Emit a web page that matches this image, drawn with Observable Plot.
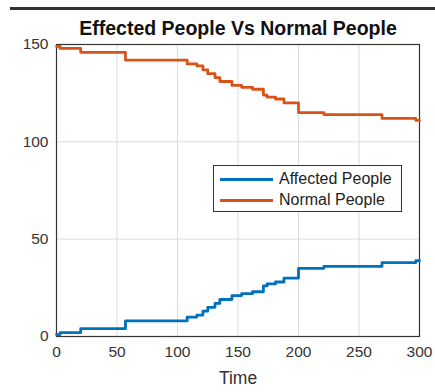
<!DOCTYPE html>
<html>
<head>
<meta charset="utf-8">
<script src="https://cdn.jsdelivr.net/npm/d3@7"></script>
<script src="https://cdn.jsdelivr.net/npm/@observablehq/plot@0.6"></script>
<style>
  html, body { margin: 0; padding: 0; background: #fff; }
  #wrap { position: relative; width: 435px; height: 392px; font-family: "Liberation Sans", Arial, sans-serif; }
  #topbar { position: absolute; left: 10px; top: 7px; width: 425px; height: 2.5px; background: #333; }
  #legend { position: absolute; left: 213px; top: 165px; width: 189px; height: 47px; background: #fff; border: 1px solid #333; box-sizing: border-box; }
  .item { position: absolute; left: 6px; height: 20px; display: flex; align-items: center; font-size: 16px; color: #222; }
  .sw { width: 53px; height: 3px; margin-right: 6px; }
</style>
</head>
<body>
<div id="wrap"><div id="chart"></div><div id="topbar"></div><div id="legend"></div></div>
<script>
const title = "Effected People Vs Normal People";
const xLabel = "Time";
const seriesNames = ["Affected People", "Normal People"];
const seriesColors = ["#0072BD", "#D95319"];
const xTicks = [0, 50, 100, 150, 200, 250, 300];
const yTicks = [0, 50, 100, 150];
const stepTimes = [0, 3, 20, 57, 108, 116, 121, 125, 131, 135, 145, 153, 162, 171, 174, 181, 188, 200, 221, 269, 297, 300];
const affected  = [1, 2, 4, 8, 10, 11, 13, 15, 17, 19, 21, 22, 23, 26, 27, 28, 30, 35, 36, 38, 39, 39];
const normal    = [149, 148, 146, 142, 140, 139, 137, 135, 133, 131, 129, 128, 127, 124, 123, 122, 120, 115, 114, 112, 111, 111];

const data = [];
stepTimes.forEach((t, i) => {
  data.push({time: t, value: affected[i], series: seriesNames[0]});
  data.push({time: t, value: normal[i], series: seriesNames[1]});
});

const chart = Plot.plot({
  width: 435,
  height: 392,
  marginLeft: 56,
  marginRight: 16,
  marginTop: 44,
  marginBottom: 56,
  style: {fontFamily: "'Liberation Sans', Arial, sans-serif", background: "#fff"},
  x: {domain: [0, 300], ticks: xTicks},
  y: {domain: [0, 150], ticks: yTicks},
  color: {domain: seriesNames, range: seriesColors},
  marks: [
    Plot.gridX(xTicks, {stroke: "#dcdcdc", strokeOpacity: 1}),
    Plot.gridY(yTicks, {stroke: "#dcdcdc", strokeOpacity: 1}),
    Plot.axisX(xTicks, {tickSize: 0, tickPadding: 9, fontSize: 15.5, color: "#333", label: null}),
    Plot.axisY(yTicks, {tickSize: 0, tickPadding: 8, fontSize: 15.5, color: "#333", label: null}),
    Plot.frame({stroke: "#333", strokeWidth: 1.2}),
    Plot.line(data, {x: "time", y: "value", z: "series", stroke: "series", strokeWidth: 2.8, curve: "step-after"}),
    Plot.text([title], {frameAnchor: "top", dy: -23, text: d => d, fontSize: 19.5, fontWeight: "bold", fill: "#111"}),
    Plot.text([xLabel], {frameAnchor: "bottom", dy: 47, text: d => d, fontSize: 17.5, fill: "#333"})
  ]
});
document.getElementById("chart").appendChild(chart);

const legend = document.getElementById("legend");
seriesNames.forEach((name, i) => {
  const it = document.createElement("div");
  it.className = "item";
  it.style.top = (3 + i * 21) + "px";
  const sw = document.createElement("div");
  sw.className = "sw";
  sw.style.background = seriesColors[i];
  const tx = document.createElement("span");
  tx.textContent = name;
  it.appendChild(sw);
  it.appendChild(tx);
  legend.appendChild(it);
});
</script>
</body>
</html>
